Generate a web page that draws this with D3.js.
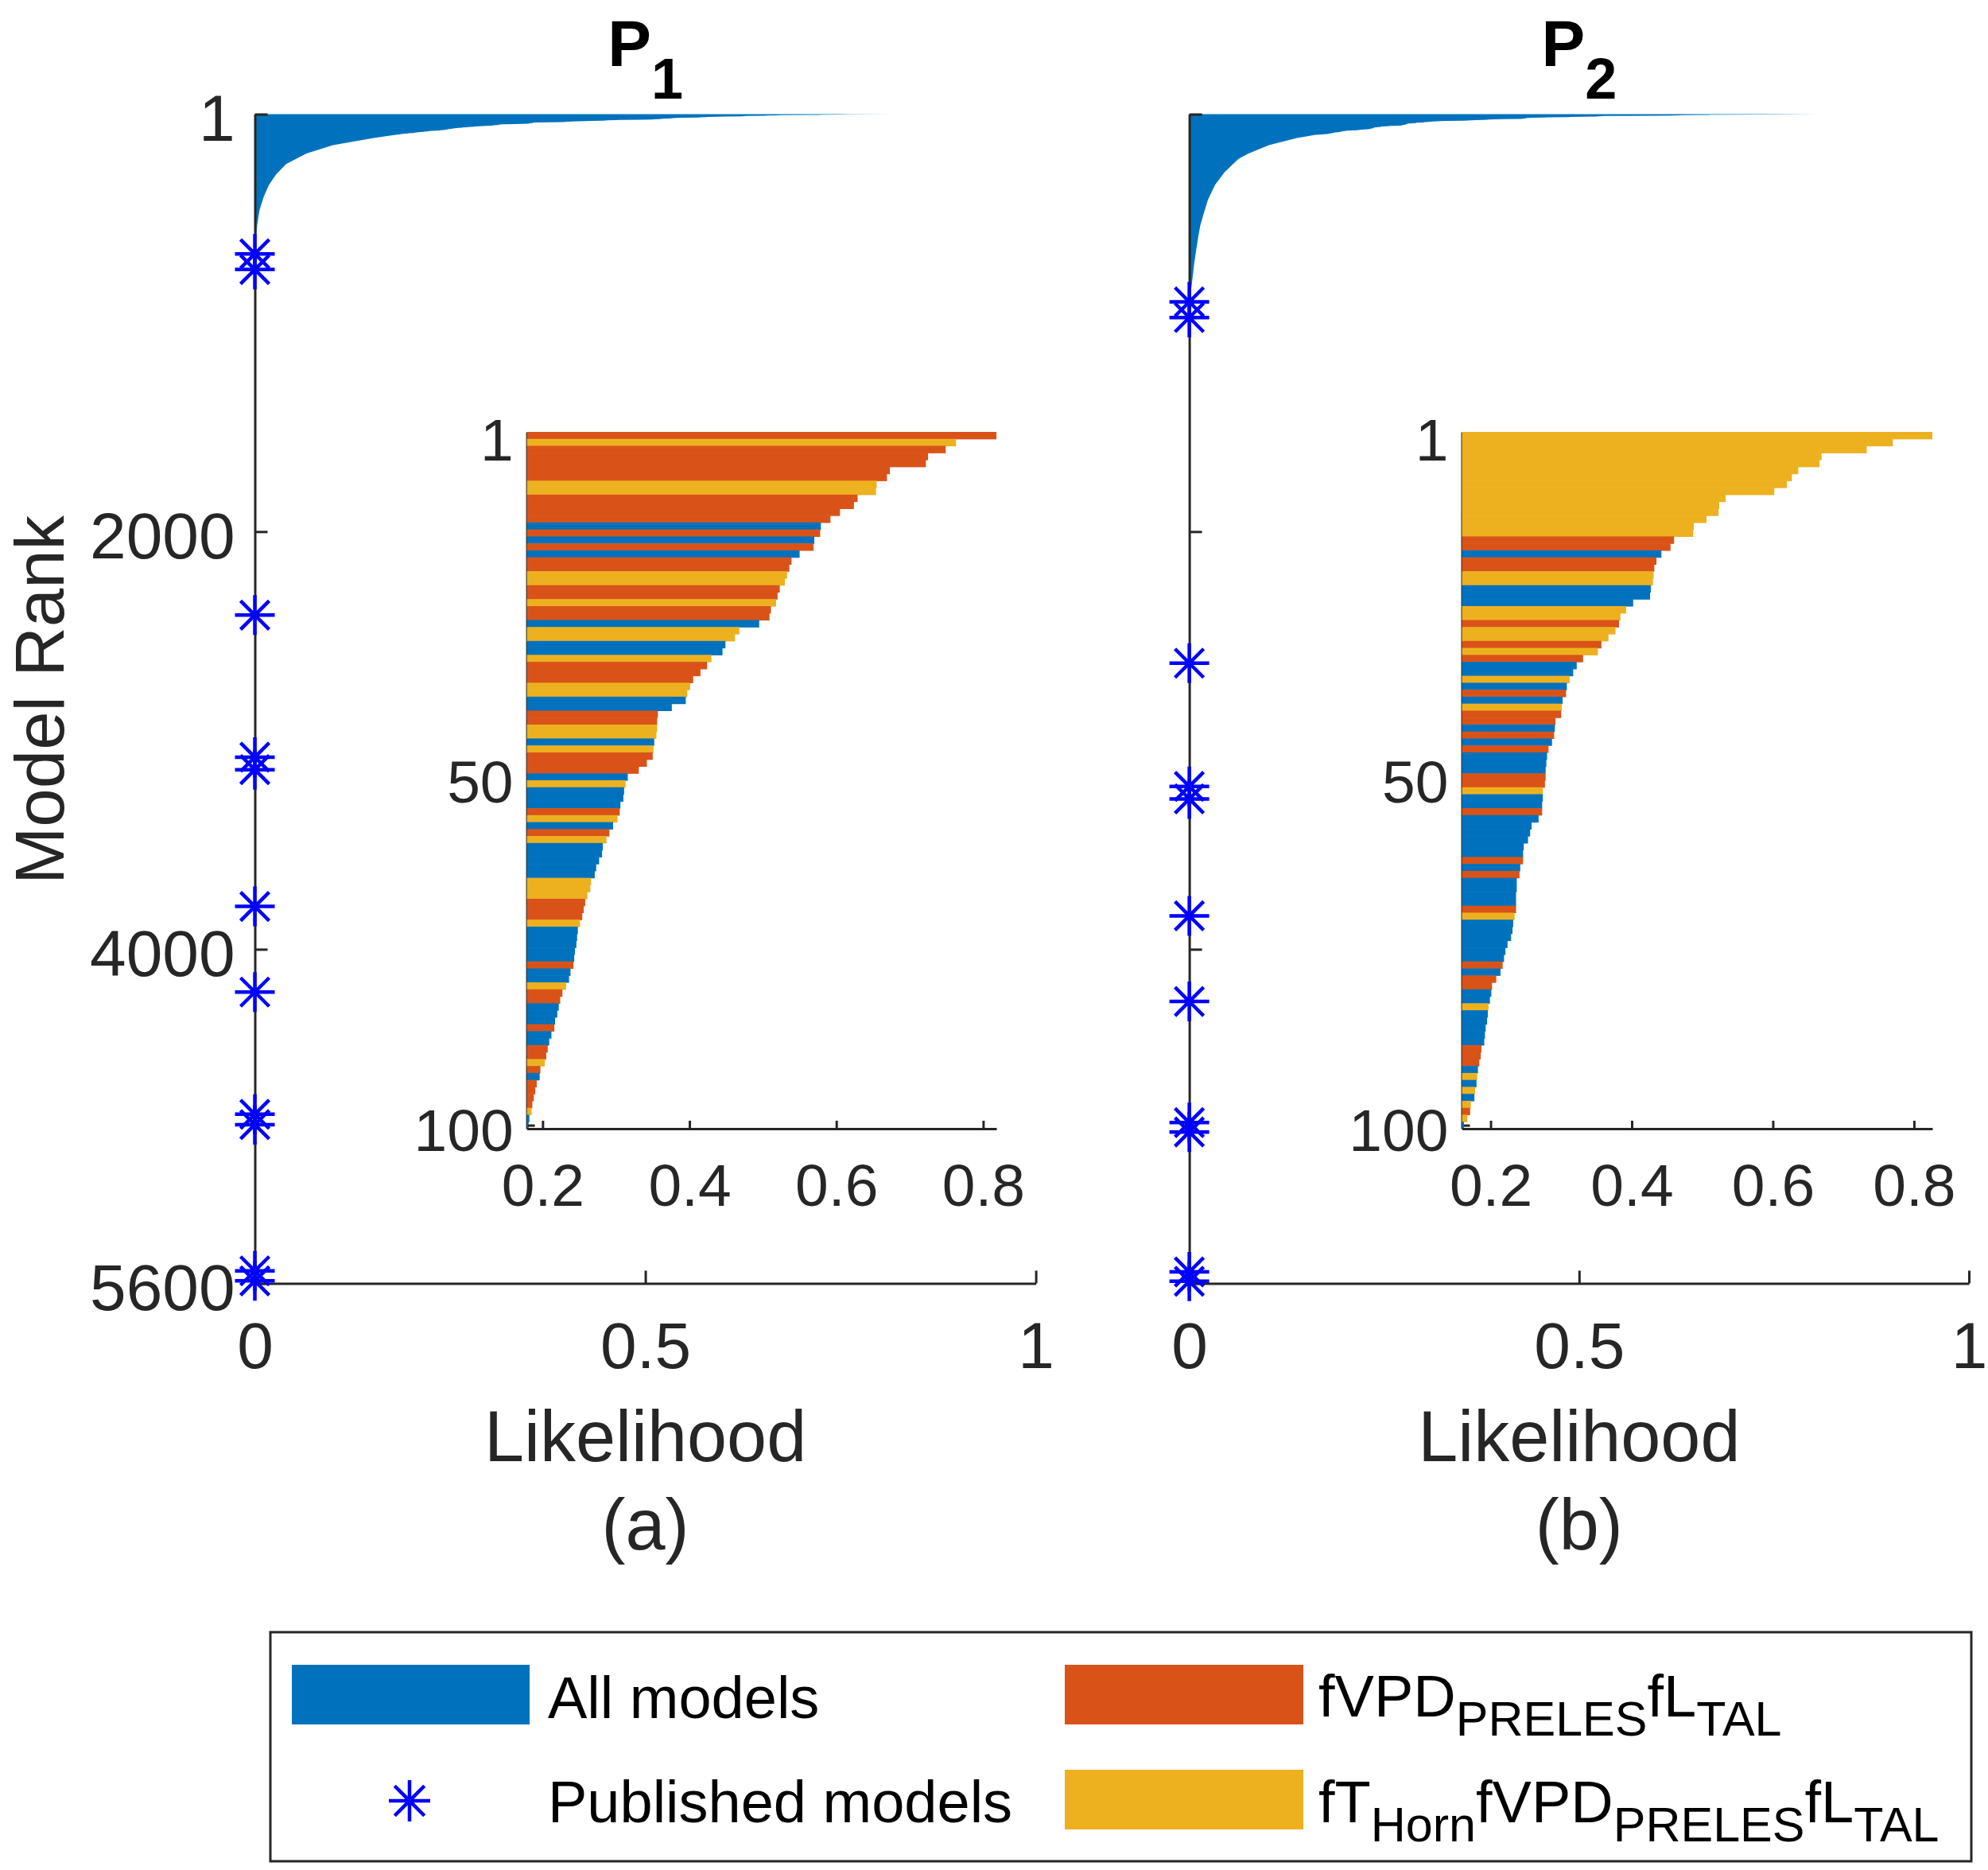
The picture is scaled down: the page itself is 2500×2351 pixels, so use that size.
<!DOCTYPE html>
<html><head><meta charset="utf-8">
<script src="https://cdn.jsdelivr.net/npm/d3@7"></script>
<style>body{margin:0;background:#fff}</style>
</head><body><svg id="chart" width="2500" height="2351"></svg>
<script>
// ---------- DATA ----------
const familyColor = {B:"#0072BD", O:"#D95319", Y:"#EDB120"};
// top-100 likelihoods (P1) and family code per rank
const p1TopLik = [0.818,0.763,0.749,0.725,0.722,0.673,0.669,0.655,0.654,0.629,
  0.624,0.605,0.592,0.579,0.578,0.570,0.569,0.550,0.539,0.536,
  0.533,0.530,0.523,0.520,0.518,0.511,0.509,0.495,0.468,0.462,
  0.449,0.445,0.430,0.424,0.415,0.405,0.401,0.397,0.395,0.376,
  0.357,0.356,0.356,0.355,0.352,0.351,0.350,0.342,0.331,0.316,
  0.313,0.311,0.310,0.306,0.305,0.302,0.296,0.291,0.287,0.282,
  0.281,0.277,0.273,0.271,0.266,0.265,0.261,0.258,0.256,0.254,
  0.251,0.248,0.247,0.246,0.244,0.243,0.242,0.238,0.236,0.232,
  0.227,0.224,0.222,0.220,0.217,0.216,0.212,0.209,0.207,0.205,
  0.203,0.197,0.196,0.192,0.190,0.188,0.186,0.185,0.182,0.180];
const p1TopFamily = ("OYOOOOOYYO"+"OOOBOBOBOO"+"YYOOYOOBYY"+"BBYOOOYYBB"+"OOYYBYOOOB"+
  "YBBBOYBOYB"+"BBBBYYYOOO"+"YBBBBBOBBY"+"OOBBBOBBOO"+"YOBOOOOYBB").split("");
const p2TopLik = [0.826,0.770,0.733,0.669,0.666,0.636,0.627,0.620,0.602,0.533,
  0.524,0.523,0.506,0.488,0.487,0.460,0.455,0.442,0.435,0.432,
  0.431,0.430,0.427,0.426,0.402,0.392,0.384,0.382,0.377,0.367,
  0.357,0.352,0.331,0.322,0.317,0.312,0.308,0.307,0.302,0.301,
  0.300,0.292,0.291,0.290,0.287,0.282,0.280,0.279,0.278,0.278,
  0.277,0.274,0.274,0.273,0.273,0.268,0.258,0.256,0.253,0.247,
  0.246,0.246,0.242,0.241,0.237,0.237,0.236,0.236,0.236,0.234,
  0.232,0.231,0.229,0.224,0.221,0.219,0.217,0.214,0.208,0.202,
  0.201,0.199,0.197,0.196,0.195,0.193,0.192,0.191,0.187,0.186,
  0.184,0.182,0.181,0.180,0.178,0.177,0.172,0.171,0.167,0.162];
const p2TopFamily = ("YYYYYYYYYY"+"YYYYYOOBOO"+"YYBBBYYOYY"+"OYOBBYBOBY"+"OOBOBOBBBO"+
  "OYBBOBBBBB"+"BOBOBBBBOY"+"BBBBBBOBOO"+"BBYBBBBBOO"+"OBYBYBYOYB").split("");
// all-models tail beyond rank 100
const p1TailRank = [115,150,190,240,290,340,400,460,530,600,700];
const p1TailLik  = [0.152,0.100,0.066,0.040,0.027,0.018,0.011,0.006,0.003,0.0015,0];
const p2TailRank = [115,150,190,215,280,340,410,470,535,600,660,725,775,850];
const p2TailLik  = [0.138,0.102,0.076,0.063,0.045,0.033,0.024,0.019,0.014,0.011,0.0085,0.006,0.0045,0.002];
// published models (rank, likelihood)
const p1PublishedRank = [670,745,2400,3080,3140,3795,4205,4790,4840,5540,5588];
const p2PublishedRank = [900,975,2630,3220,3280,3840,4250,4830,4875,5545,5590];
const publishedLik = [0,0,0,0,0,0,0,0,0,0,0];
// ticks
const mainRankTicks = [1,2000,4000,5600];
const mainLikTicks = [0,0.5,1];
const insetRankTicks = [1,50,100];
const insetLikTicks = [0.2,0.4,0.6,0.8];
const panelTitles = [["P","1"],["P","2"]];
const panelLetters = ["(a)","(b)"];

// ---------- DRAW ----------
const FONT = '"Liberation Sans", Arial, Helvetica, sans-serif';
const AX = "#262626";
const STAR = "#0000ff";
const svg = d3.select("#chart").attr("font-family", FONT);
svg.append("rect").attr("width",2500).attr("height",2351).attr("fill","#fff");

function asterisk(cx, cy, r) {
  const p = d3.path(), d = r*0.72;
  p.moveTo(cx-r,cy); p.lineTo(cx+r,cy);
  p.moveTo(cx,cy-r); p.lineTo(cx,cy+r);
  p.moveTo(cx-d,cy-d); p.lineTo(cx+d,cy+d);
  p.moveTo(cx-d,cy+d); p.lineTo(cx+d,cy-d);
  return p.toString();
}
function styleAxis(g, fs) {
  g.attr("font-family", FONT).attr("font-size", fs);
  g.select(".domain").attr("stroke", AX).attr("stroke-width", 3);
  g.selectAll(".tick line").attr("stroke", AX).attr("stroke-width", 3);
  g.selectAll(".tick text").attr("fill", AX);
}

const panels = [
  {x0:320.5, x1:1302.6, topLik:p1TopLik, fam:p1TopFamily, tailRank:p1TailRank, tailLik:p1TailLik,
   pub:p1PublishedRank, showY:true, ix0:662.6, ix1:1253, idom:[0.1786,0.818], title:panelTitles[0], letter:panelLetters[0]},
  {x0:1495.6, x1:2476, topLik:p2TopLik, fam:p2TopFamily, tailRank:p2TailRank, tailLik:p2TailLik,
   pub:p2PublishedRank, showY:false, ix0:1838.5, ix1:2430, idom:[0.1594,0.826], title:panelTitles[1], letter:panelLetters[1]}
];

panels.forEach(cfg => {
  const g = svg.append("g");
  const x = d3.scaleLinear().domain([0,1]).range([cfg.x0, cfg.x1]);
  const y = d3.scaleLinear().domain([1,5600]).range([143.5,1613.5]);
  const ranks = d3.range(1, cfg.topLik.length+1).concat(cfg.tailRank);
  const liks = cfg.topLik.concat(cfg.tailLik);
  const pts = ranks.map((r,i)=>({r, v:liks[i]}));
  g.append("path").datum(pts)
    .attr("d", d3.area().y(d=>y(d.r)).x0(x(0)).x1(d=>x(d.v)))
    .attr("fill", familyColor.B);

  const yAxis = d3.axisLeft(y).tickValues(mainRankTicks).tickSizeInner(-16).tickSizeOuter(0).tickPadding(25)
    .tickFormat(cfg.showY ? d3.format("d") : () => "");
  const gy = g.append("g").attr("transform",`translate(${cfg.x0},0)`).call(yAxis);
  styleAxis(gy, 82);
  gy.selectAll(".tick text").attr("dy","0.40em");
  const xAxis = d3.axisBottom(x).tickValues(mainLikTicks).tickSizeInner(-16).tickSizeOuter(0).tickPadding(48)
    .tickFormat(d3.format("~g"));
  const gx = g.append("g").attr("transform","translate(0,1613.5)").call(xAxis);
  styleAxis(gx, 82);

  // published models
  g.selectAll("path.star").data(cfg.pub).join("path").attr("class","star")
    .attr("d",(r,i)=>asterisk(x(publishedLik[i]), y(r), 25))
    .attr("stroke",STAR).attr("stroke-width",4.5).attr("fill","none");

  // inset
  const xi = d3.scaleLinear().domain(cfg.idom).range([cfg.ix0, cfg.ix1]);
  const yi = d3.scaleLinear().domain([0.5,100.5]).range([543,1419]);
  const giy = g.append("g").attr("transform",`translate(${cfg.ix0},0)`)
    .call(d3.axisLeft(yi).tickValues(insetRankTicks).tickSizeInner(-10).tickSizeOuter(0).tickPadding(17).tickFormat(d3.format("d")));
  styleAxis(giy, 75);
  giy.selectAll(".tick text").attr("dy","0.42em");
  g.selectAll("rect.bar").data(cfg.topLik).join("rect").attr("class","bar")
    .attr("x", xi(cfg.idom[0]))
    .attr("y", (d,i)=>yi(i+0.5))
    .attr("width", d=>Math.max(0, xi(d)-xi(cfg.idom[0])))
    .attr("height", yi(1.5)-yi(0.5)+0.6)
    .attr("fill", (d,i)=>familyColor[cfg.fam[i]]);
  const gix = g.append("g").attr("transform","translate(0,1419)")
    .call(d3.axisBottom(xi).tickValues(insetLikTicks).tickSizeInner(-10).tickSizeOuter(0).tickPadding(44).tickFormat(d3.format(".1f")));
  styleAxis(gix, 75);

  // labels
  const cx = (cfg.x0+cfg.x1)/2;
  const t = g.append("text").attr("x", cx).attr("y", 83).attr("text-anchor","middle")
    .attr("font-weight","bold").attr("font-size",82).attr("fill","#000");
  t.append("tspan").text(cfg.title[0]);
  t.append("tspan").attr("font-size",72).attr("dy",41).text(cfg.title[1]);
  g.append("text").attr("x",cx).attr("y",1837).attr("text-anchor","middle").attr("font-size",90).attr("fill",AX).text("Likelihood");
  g.append("text").attr("x",cx).attr("y",1948).attr("text-anchor","middle").attr("font-size",90).attr("fill",AX).text(cfg.letter);
});

svg.append("text").attr("transform","translate(80,880) rotate(-90)").attr("text-anchor","middle")
  .attr("font-size",87).attr("fill",AX).text("Model Rank");

// legend
const lg = svg.append("g");
lg.append("rect").attr("x",340).attr("y",2052).attr("width",2139).attr("height",288)
  .attr("fill","#fff").attr("stroke",AX).attr("stroke-width",3);
lg.append("rect").attr("x",367).attr("y",2093).attr("width",299).attr("height",75).attr("fill",familyColor.B);
lg.append("path").attr("d",asterisk(515,2264,26)).attr("stroke",STAR).attr("stroke-width",4.5).attr("fill","none");
lg.append("rect").attr("x",1339).attr("y",2093).attr("width",300).attr("height",75).attr("fill",familyColor.O);
lg.append("rect").attr("x",1339).attr("y",2225).attr("width",300).attr("height",75).attr("fill",familyColor.Y);
lg.append("text").attr("x",689).attr("y",2160).attr("font-size",74).attr("fill","#000").text("All models");
lg.append("text").attr("x",689).attr("y",2291).attr("font-size",74).attr("fill","#000").text("Published models");
function subText(xp, yp, parts) {
  const t = lg.append("text").attr("x",xp).attr("y",yp).attr("font-size",74).attr("fill","#000");
  let low = false;
  parts.forEach(([s, sub]) => {
    const ts = t.append("tspan").text(s);
    if (sub && !low) { ts.attr("font-size",61).attr("dy",24); low = true; }
    else if (!sub && low) { ts.attr("font-size",74).attr("dy",-24); low = false; }
    else if (sub) ts.attr("font-size",61);
  });
}
subText(1658, 2158, [["fVPD",false],["PRELES",true],["fL",false],["TAL",true]]);
subText(1658, 2291, [["fT",false],["Horn",true],["fVPD",false],["PRELES",true],["fL",false],["TAL",true]]);
</script></body></html>
